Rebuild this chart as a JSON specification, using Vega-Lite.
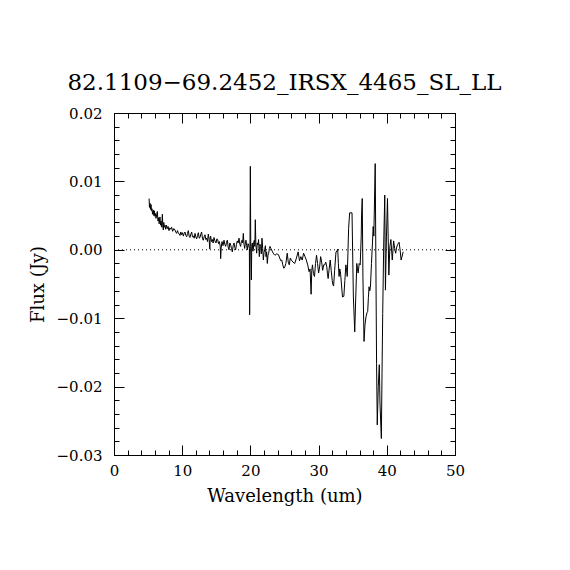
{
  "$schema": "https://vega.github.io/schema/vega-lite/v6.json",
  "width": 341,
  "height": 342,
  "autosize": {"type": "none"},
  "padding": {"left": 114, "top": 113, "right": 115, "bottom": 115},
  "background": "white",
  "config": {
    "view": {"stroke": "black", "strokeWidth": 1},
    "font": "DejaVu Serif",
    "axis": {
      "grid": false,
      "domainColor": "black",
      "tickColor": "black",
      "labelColor": "black",
      "titleColor": "black",
      "labelFont": "DejaVu Serif",
      "titleFont": "DejaVu Serif",
      "labelFontSize": 15,
      "titleFontSize": 18,
      "titleFontWeight": "normal",
      "labelFlush": false,
      "labelOverlap": false
    }
  },
  "title": {
    "text": "82.1109−69.2452_IRSX_4465_SL_LL",
    "font": "DejaVu Serif",
    "fontSize": 23,
    "fontWeight": "normal",
    "color": "black",
    "anchor": "middle",
    "baseline": "alphabetic",
    "offset": -7
  },
  "datasets": {
    "spectrum": [
      {"wavelength": 5.15, "flux": 0.0075},
      {"wavelength": 5.2, "flux": 0.0062},
      {"wavelength": 5.28, "flux": 0.0068},
      {"wavelength": 5.35, "flux": 0.0059},
      {"wavelength": 5.43, "flux": 0.0066},
      {"wavelength": 5.5, "flux": 0.0057},
      {"wavelength": 5.57, "flux": 0.006},
      {"wavelength": 5.65, "flux": 0.0052},
      {"wavelength": 5.77, "flux": 0.0058},
      {"wavelength": 5.85, "flux": 0.005},
      {"wavelength": 5.91, "flux": 0.0057},
      {"wavelength": 6.0, "flux": 0.0049},
      {"wavelength": 6.08, "flux": 0.0053},
      {"wavelength": 6.16, "flux": 0.0046},
      {"wavelength": 6.25, "flux": 0.0051},
      {"wavelength": 6.35, "flux": 0.0056},
      {"wavelength": 6.45, "flux": 0.0042},
      {"wavelength": 6.55, "flux": 0.0047},
      {"wavelength": 6.62, "flux": 0.0038},
      {"wavelength": 6.74, "flux": 0.0048},
      {"wavelength": 6.82, "flux": 0.0036},
      {"wavelength": 6.89, "flux": 0.0042},
      {"wavelength": 7.0, "flux": 0.0033},
      {"wavelength": 7.09, "flux": 0.0052},
      {"wavelength": 7.16, "flux": 0.0035},
      {"wavelength": 7.23, "flux": 0.0029},
      {"wavelength": 7.3, "flux": 0.004},
      {"wavelength": 7.38, "flux": 0.0033},
      {"wavelength": 7.48, "flux": 0.0036},
      {"wavelength": 7.58, "flux": 0.003},
      {"wavelength": 7.7, "flux": 0.0036},
      {"wavelength": 7.82, "flux": 0.0031},
      {"wavelength": 7.94, "flux": 0.0034},
      {"wavelength": 8.06, "flux": 0.0028},
      {"wavelength": 8.18, "flux": 0.0032},
      {"wavelength": 8.31, "flux": 0.003},
      {"wavelength": 8.45, "flux": 0.0033},
      {"wavelength": 8.6, "flux": 0.0027},
      {"wavelength": 8.77, "flux": 0.0031},
      {"wavelength": 8.94, "flux": 0.0029},
      {"wavelength": 9.06, "flux": 0.0026},
      {"wavelength": 9.19, "flux": 0.0024},
      {"wavelength": 9.31, "flux": 0.0028},
      {"wavelength": 9.43, "flux": 0.0025},
      {"wavelength": 9.55, "flux": 0.0023},
      {"wavelength": 9.68, "flux": 0.0021},
      {"wavelength": 9.8, "flux": 0.0026},
      {"wavelength": 9.92, "flux": 0.0022},
      {"wavelength": 10.05, "flux": 0.0025},
      {"wavelength": 10.17, "flux": 0.002},
      {"wavelength": 10.29, "flux": 0.0024},
      {"wavelength": 10.41, "flux": 0.0026},
      {"wavelength": 10.53, "flux": 0.0021},
      {"wavelength": 10.66, "flux": 0.0019},
      {"wavelength": 10.78, "flux": 0.0024},
      {"wavelength": 10.9, "flux": 0.0028},
      {"wavelength": 11.02, "flux": 0.002},
      {"wavelength": 11.14, "flux": 0.0018},
      {"wavelength": 11.27, "flux": 0.0023},
      {"wavelength": 11.39, "flux": 0.0026},
      {"wavelength": 11.51, "flux": 0.0019},
      {"wavelength": 11.63, "flux": 0.002},
      {"wavelength": 11.76, "flux": 0.0017},
      {"wavelength": 11.88, "flux": 0.0024},
      {"wavelength": 12.0, "flux": 0.0019},
      {"wavelength": 12.12, "flux": 0.0016},
      {"wavelength": 12.25, "flux": 0.0021},
      {"wavelength": 12.37, "flux": 0.0025},
      {"wavelength": 12.49, "flux": 0.0017},
      {"wavelength": 12.61, "flux": 0.0018},
      {"wavelength": 12.73, "flux": 0.0023},
      {"wavelength": 12.85, "flux": 0.0026},
      {"wavelength": 12.98, "flux": 0.0016},
      {"wavelength": 13.1, "flux": 0.0014},
      {"wavelength": 13.22, "flux": 0.0019},
      {"wavelength": 13.34, "flux": 0.0022},
      {"wavelength": 13.47, "flux": 0.0015},
      {"wavelength": 13.59, "flux": 0.0017},
      {"wavelength": 13.71, "flux": 0.0012},
      {"wavelength": 13.83, "flux": 0.0023},
      {"wavelength": 13.95, "flux": 0.0015},
      {"wavelength": 14.05, "flux": 0.0001},
      {"wavelength": 14.1, "flux": 0.0017},
      {"wavelength": 14.17, "flux": 0.002},
      {"wavelength": 14.3, "flux": 0.0012},
      {"wavelength": 14.42, "flux": 0.0015},
      {"wavelength": 14.54, "flux": 0.001},
      {"wavelength": 14.66, "flux": 0.0018},
      {"wavelength": 14.8, "flux": 0.0013},
      {"wavelength": 14.96, "flux": 0.001},
      {"wavelength": 15.08, "flux": 0.0016},
      {"wavelength": 15.2, "flux": 0.0015},
      {"wavelength": 15.32, "flux": 0.0009},
      {"wavelength": 15.44, "flux": 0.0012},
      {"wavelength": 15.58, "flux": 0.0005},
      {"wavelength": 15.64, "flux": -0.0013},
      {"wavelength": 15.72, "flux": 0.0003},
      {"wavelength": 15.84, "flux": 0.0012},
      {"wavelength": 15.98, "flux": 0.0006},
      {"wavelength": 16.13, "flux": 0.0014},
      {"wavelength": 16.25, "flux": 0.0008},
      {"wavelength": 16.37, "flux": 0.0005},
      {"wavelength": 16.5, "flux": 0.0011},
      {"wavelength": 16.62, "flux": 0.0014},
      {"wavelength": 16.74, "flux": 0.0004},
      {"wavelength": 16.86, "flux": 0.0},
      {"wavelength": 16.98, "flux": 0.001},
      {"wavelength": 17.11, "flux": 0.0007},
      {"wavelength": 17.23, "flux": 0.0002},
      {"wavelength": 17.35, "flux": -0.0003},
      {"wavelength": 17.47, "flux": 0.0006},
      {"wavelength": 17.6, "flux": 0.001},
      {"wavelength": 17.72, "flux": 0.0003},
      {"wavelength": 17.84, "flux": 0.0},
      {"wavelength": 17.96, "flux": 0.0008},
      {"wavelength": 18.08, "flux": 0.0013},
      {"wavelength": 18.2, "flux": 0.001},
      {"wavelength": 18.33, "flux": 0.0017},
      {"wavelength": 18.45, "flux": 0.0008},
      {"wavelength": 18.57, "flux": 0.0005},
      {"wavelength": 18.67, "flux": 0.0012},
      {"wavelength": 18.77, "flux": 0.0014},
      {"wavelength": 18.87, "flux": 0.001},
      {"wavelength": 18.96, "flux": 0.0024},
      {"wavelength": 19.06, "flux": 0.0008},
      {"wavelength": 19.16, "flux": 0.0002},
      {"wavelength": 19.26, "flux": 0.001},
      {"wavelength": 19.35, "flux": 0.0014},
      {"wavelength": 19.45, "flux": 0.0006},
      {"wavelength": 19.55, "flux": 0.0},
      {"wavelength": 19.65, "flux": 0.0009},
      {"wavelength": 19.75, "flux": 0.0007},
      {"wavelength": 19.85, "flux": 0.0002},
      {"wavelength": 19.89, "flux": -0.0095},
      {"wavelength": 19.94, "flux": 0.0005},
      {"wavelength": 19.99, "flux": 0.0122},
      {"wavelength": 20.05, "flux": 0.001},
      {"wavelength": 20.14, "flux": -0.0044},
      {"wavelength": 20.2, "flux": 0.0005},
      {"wavelength": 20.28, "flux": 0.001},
      {"wavelength": 20.36, "flux": -0.0002},
      {"wavelength": 20.43, "flux": 0.0},
      {"wavelength": 20.5, "flux": 0.0012},
      {"wavelength": 20.58, "flux": 0.0014},
      {"wavelength": 20.65, "flux": 0.0005},
      {"wavelength": 20.72, "flux": 0.0044},
      {"wavelength": 20.8, "flux": 0.0008},
      {"wavelength": 20.92, "flux": -0.0005},
      {"wavelength": 21.0, "flux": 0.001},
      {"wavelength": 21.11, "flux": 0.0007},
      {"wavelength": 21.2, "flux": 0.0015},
      {"wavelength": 21.31, "flux": -0.001},
      {"wavelength": 21.4, "flux": 0.0008},
      {"wavelength": 21.5, "flux": 0.0005},
      {"wavelength": 21.6, "flux": -0.0006},
      {"wavelength": 21.7, "flux": 0.0017},
      {"wavelength": 21.8, "flux": 0.0002},
      {"wavelength": 21.9, "flux": -0.0015},
      {"wavelength": 22.0, "flux": -0.0004},
      {"wavelength": 22.09, "flux": 0.0},
      {"wavelength": 22.2, "flux": 0.0006},
      {"wavelength": 22.29, "flux": -0.001},
      {"wavelength": 22.38, "flux": -0.0003},
      {"wavelength": 22.48, "flux": -0.002},
      {"wavelength": 22.58, "flux": -0.0008},
      {"wavelength": 22.68, "flux": -0.0005},
      {"wavelength": 22.78, "flux": 0.0002},
      {"wavelength": 22.87, "flux": 0.0005},
      {"wavelength": 23.0, "flux": 0.0002},
      {"wavelength": 23.2, "flux": -0.0002},
      {"wavelength": 23.4, "flux": -0.0006},
      {"wavelength": 23.6, "flux": -0.0008},
      {"wavelength": 23.85, "flux": -0.0006},
      {"wavelength": 24.1, "flux": -0.0007},
      {"wavelength": 24.3, "flux": -0.0012},
      {"wavelength": 24.45, "flux": -0.0016},
      {"wavelength": 24.6, "flux": -0.0015},
      {"wavelength": 24.75, "flux": -0.0022},
      {"wavelength": 24.9, "flux": -0.0027},
      {"wavelength": 25.05, "flux": -0.0025},
      {"wavelength": 25.2, "flux": -0.002},
      {"wavelength": 25.4, "flux": -0.0005},
      {"wavelength": 25.55, "flux": -0.0018},
      {"wavelength": 25.7, "flux": -0.0022},
      {"wavelength": 25.85, "flux": -0.0012},
      {"wavelength": 26.0, "flux": -0.0015},
      {"wavelength": 26.25, "flux": -0.0018},
      {"wavelength": 26.5, "flux": -0.002},
      {"wavelength": 26.75, "flux": -0.0012},
      {"wavelength": 27.0, "flux": -0.0003},
      {"wavelength": 27.2, "flux": -0.0016},
      {"wavelength": 27.4, "flux": -0.001},
      {"wavelength": 27.6, "flux": -0.0015},
      {"wavelength": 27.8, "flux": -0.0005},
      {"wavelength": 28.0, "flux": -0.001},
      {"wavelength": 28.2, "flux": -0.0015},
      {"wavelength": 28.4, "flux": -0.0022},
      {"wavelength": 28.6, "flux": -0.0032},
      {"wavelength": 28.75, "flux": -0.0028},
      {"wavelength": 28.9, "flux": -0.0065},
      {"wavelength": 29.0, "flux": -0.003},
      {"wavelength": 29.1, "flux": -0.0022},
      {"wavelength": 29.25, "flux": -0.0035},
      {"wavelength": 29.4, "flux": -0.0039},
      {"wavelength": 29.55, "flux": -0.002},
      {"wavelength": 29.7, "flux": -0.0008},
      {"wavelength": 29.85, "flux": -0.002},
      {"wavelength": 30.0, "flux": -0.0034},
      {"wavelength": 30.15, "flux": -0.0025},
      {"wavelength": 30.3, "flux": -0.001},
      {"wavelength": 30.45, "flux": -0.0018},
      {"wavelength": 30.6, "flux": -0.003},
      {"wavelength": 30.75, "flux": -0.0022},
      {"wavelength": 30.9, "flux": -0.0022},
      {"wavelength": 31.05, "flux": -0.0018},
      {"wavelength": 31.2, "flux": -0.0025},
      {"wavelength": 31.3, "flux": -0.0035},
      {"wavelength": 31.4, "flux": -0.0042},
      {"wavelength": 31.55, "flux": -0.0028},
      {"wavelength": 31.7, "flux": -0.0015},
      {"wavelength": 31.85, "flux": -0.003},
      {"wavelength": 32.0, "flux": -0.0045},
      {"wavelength": 32.1, "flux": -0.0051},
      {"wavelength": 32.2, "flux": -0.0053},
      {"wavelength": 32.35, "flux": -0.003},
      {"wavelength": 32.55, "flux": -0.0003},
      {"wavelength": 32.7, "flux": -0.0002},
      {"wavelength": 32.8, "flux": 0.0001},
      {"wavelength": 32.9, "flux": -0.002},
      {"wavelength": 33.0, "flux": -0.0039},
      {"wavelength": 33.1, "flux": -0.0028},
      {"wavelength": 33.2, "flux": -0.0032},
      {"wavelength": 33.35, "flux": -0.005},
      {"wavelength": 33.5, "flux": -0.0069},
      {"wavelength": 33.7, "flux": -0.0068},
      {"wavelength": 33.85, "flux": -0.0045},
      {"wavelength": 34.0, "flux": -0.0022},
      {"wavelength": 34.1, "flux": -0.003},
      {"wavelength": 34.2, "flux": -0.0039},
      {"wavelength": 34.3, "flux": -0.0005},
      {"wavelength": 34.4, "flux": 0.0031},
      {"wavelength": 34.55, "flux": 0.0054},
      {"wavelength": 34.9, "flux": 0.0054},
      {"wavelength": 35.1, "flux": -0.0069},
      {"wavelength": 35.3, "flux": -0.012},
      {"wavelength": 35.4, "flux": -0.0085},
      {"wavelength": 35.6, "flux": -0.002},
      {"wavelength": 35.7, "flux": -0.0028},
      {"wavelength": 35.8, "flux": -0.0034},
      {"wavelength": 35.95, "flux": -0.002},
      {"wavelength": 36.1, "flux": -0.0022},
      {"wavelength": 36.25, "flux": 0.002},
      {"wavelength": 36.3, "flux": 0.0051},
      {"wavelength": 36.4, "flux": 0.0075},
      {"wavelength": 36.5, "flux": -0.004},
      {"wavelength": 36.66, "flux": -0.0134},
      {"wavelength": 36.8, "flux": -0.011},
      {"wavelength": 36.95, "flux": -0.0098},
      {"wavelength": 37.1, "flux": -0.0092},
      {"wavelength": 37.2, "flux": -0.009},
      {"wavelength": 37.3, "flux": -0.007},
      {"wavelength": 37.4, "flux": -0.0054},
      {"wavelength": 37.5, "flux": -0.006},
      {"wavelength": 37.6, "flux": -0.0055},
      {"wavelength": 37.75, "flux": -0.002},
      {"wavelength": 37.9, "flux": 0.001},
      {"wavelength": 38.0, "flux": 0.0034},
      {"wavelength": 38.1, "flux": 0.002},
      {"wavelength": 38.3, "flux": 0.0126},
      {"wavelength": 38.5, "flux": -0.0166},
      {"wavelength": 38.6, "flux": -0.0256},
      {"wavelength": 38.75, "flux": -0.02},
      {"wavelength": 38.9, "flux": -0.0168},
      {"wavelength": 39.0, "flux": -0.0224},
      {"wavelength": 39.2, "flux": -0.0276},
      {"wavelength": 39.3, "flux": -0.018},
      {"wavelength": 39.4, "flux": -0.0093},
      {"wavelength": 39.55, "flux": 0.001},
      {"wavelength": 39.7, "flux": 0.008},
      {"wavelength": 39.8, "flux": -0.0059},
      {"wavelength": 39.95, "flux": 0.002},
      {"wavelength": 40.1, "flux": 0.0075},
      {"wavelength": 40.3, "flux": -0.0037},
      {"wavelength": 40.45, "flux": 0.0005},
      {"wavelength": 40.6, "flux": 0.0015},
      {"wavelength": 40.8, "flux": -0.0015},
      {"wavelength": 41.0, "flux": 0.0013},
      {"wavelength": 41.15, "flux": 0.0002},
      {"wavelength": 41.3, "flux": -0.0005},
      {"wavelength": 41.45, "flux": 0.0004},
      {"wavelength": 41.6, "flux": 0.0008},
      {"wavelength": 41.8, "flux": 0.0011},
      {"wavelength": 41.95, "flux": 0.0},
      {"wavelength": 42.1, "flux": -0.0015},
      {"wavelength": 42.4, "flux": -0.0003}
    ]
  },
  "layer": [
    {
      "data": {"name": "spectrum"},
      "mark": {"type": "line", "color": "black", "strokeWidth": 1},
      "encoding": {
        "x": {
          "field": "wavelength",
          "type": "quantitative",
          "scale": {"domain": [0, 50], "nice": false, "zero": false},
          "axis": {
            "orient": "bottom",
            "title": "Wavelength (um)",
            "values": [0, 2, 4, 6, 8, 10, 12, 14, 16, 18, 20, 22, 24, 26, 28, 30, 32, 34, 36, 38, 40, 42, 44, 46, 48, 50],
            "tickSize": {"condition": {"test": "datum.value % 10 === 0", "value": -10}, "value": -5},
            "labelExpr": "datum.value % 10 === 0 ? datum.label : ''",
            "labelPadding": 18,
            "titlePadding": 4
          }
        },
        "y": {
          "field": "flux",
          "type": "quantitative",
          "scale": {"domain": [-0.03, 0.02], "nice": false, "zero": false},
          "axis": {
            "orient": "left",
            "title": "Flux (Jy)",
            "values": [-0.03, -0.028, -0.026, -0.024, -0.022, -0.02, -0.018, -0.016, -0.014, -0.012, -0.01, -0.008, -0.006, -0.004, -0.002, 0, 0.002, 0.004, 0.006, 0.008, 0.01, 0.012, 0.014, 0.016, 0.018, 0.02],
            "tickSize": {"condition": {"test": "abs(datum.value * 100 - round(datum.value * 100)) < 0.001", "value": -10}, "value": -5},
            "labelExpr": "abs(datum.value * 100 - round(datum.value * 100)) < 0.001 ? format(datum.value, '.2f') : ''",
            "labelPadding": 22,
            "titlePadding": 9
          }
        }
      }
    },
    {
      "data": {"values": [{}]},
      "mark": {"type": "rule", "color": "black", "strokeWidth": 1, "strokeDash": [1, 3]},
      "encoding": {
        "x": {
          "datum": 0,
          "type": "quantitative",
          "axis": {
            "orient": "top",
            "title": null,
            "labels": false,
            "values": [0, 2, 4, 6, 8, 10, 12, 14, 16, 18, 20, 22, 24, 26, 28, 30, 32, 34, 36, 38, 40, 42, 44, 46, 48, 50],
            "tickSize": {"condition": {"test": "datum.value % 10 === 0", "value": -10}, "value": -5}
          }
        },
        "x2": {"datum": 50},
        "y": {
          "datum": 0,
          "type": "quantitative",
          "axis": {
            "orient": "right",
            "title": null,
            "labels": false,
            "values": [-0.03, -0.028, -0.026, -0.024, -0.022, -0.02, -0.018, -0.016, -0.014, -0.012, -0.01, -0.008, -0.006, -0.004, -0.002, 0, 0.002, 0.004, 0.006, 0.008, 0.01, 0.012, 0.014, 0.016, 0.018, 0.02],
            "tickSize": {"condition": {"test": "abs(datum.value * 100 - round(datum.value * 100)) < 0.001", "value": -10}, "value": -5}
          }
        }
      }
    }
  ],
  "resolve": {"axis": {"x": "independent", "y": "independent"}}
}
